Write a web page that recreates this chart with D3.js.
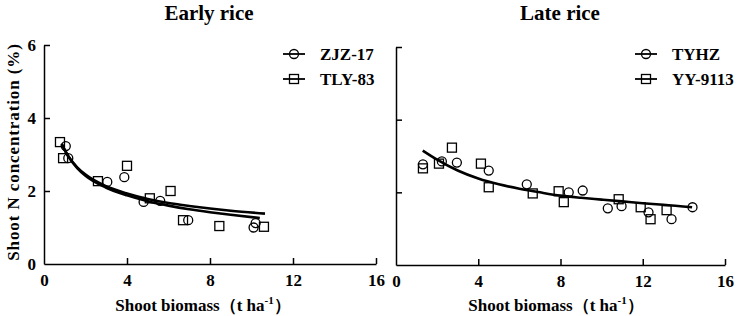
<!DOCTYPE html>
<html><head><meta charset="utf-8">
<script src="https://cdn.jsdelivr.net/npm/d3@7"></script>
<style>body{margin:0;background:#fff}svg{display:block}text{font-family:"Liberation Serif","Times New Roman",serif;font-weight:bold;fill:#000}</style>
</head><body><svg id="c" width="737" height="316"></svg>
<script>
const panelTitles = ["Early rice", "Late rice"];
const seriesNames = [["ZJZ-17", "TLY-83"], ["TYHZ", "YY-9113"]];
const xTicks = [0, 4, 8, 12, 16];
const yTicks = [0, 2, 4, 6];

// Early rice observations
const earlyCircleX = [1.05, 1.17, 3.05, 3.87, 4.8, 5.6, 6.95, 10.1, 10.2];
const earlyCircleY = [3.23, 2.9, 2.25, 2.38, 1.7, 1.73, 1.2, 1.0, 1.12];
const earlySquareX = [0.77, 0.92, 2.6, 4.0, 5.1, 6.1, 6.7, 8.45, 10.6];
const earlySquareY = [3.34, 2.9, 2.27, 2.69, 1.8, 2.0, 1.2, 1.04, 1.02];
// Early rice fitted curves
const earlyFitAX = [0.85, 1.2, 1.6, 2, 3, 4, 5, 6, 7, 8, 9, 10.65];
const earlyFitAY = [3.30, 2.93, 2.65, 2.45, 2.13, 1.93, 1.78, 1.67, 1.59, 1.52, 1.46, 1.38];
const earlyFitBX = [0.85, 1.2, 1.6, 2, 3, 4, 5, 6, 7, 8, 9, 10.4];
const earlyFitBY = [3.28, 2.92, 2.63, 2.42, 2.09, 1.88, 1.72, 1.60, 1.50, 1.42, 1.35, 1.26];

// Late rice observations
const lateCircleX = [1.31, 2.23, 2.96, 4.51, 6.36, 8.4, 9.08, 10.3, 10.97, 12.28, 13.4, 14.42];
const lateCircleY = [2.77, 2.85, 2.82, 2.6, 2.22, 2.0, 2.05, 1.56, 1.62, 1.45, 1.26, 1.59];
const lateSquareX = [1.31, 2.09, 2.72, 4.13, 4.51, 6.65, 7.91, 8.16, 10.83, 11.9, 12.38, 13.16];
const lateSquareY = [2.66, 2.79, 3.23, 2.79, 2.14, 1.97, 2.03, 1.73, 1.81, 1.59, 1.26, 1.51];
// Late rice fitted curve
const lateFitX = [1.3, 2, 3, 4, 5, 6, 7, 8, 9, 10, 11, 12, 13, 14.4];
const lateFitY = [3.15, 2.9, 2.6, 2.38, 2.22, 2.1, 2.0, 1.91, 1.85, 1.8, 1.75, 1.7, 1.66, 1.59];

const svg = d3.select("#c");
const zip = (xs, ys) => xs.map((x, i) => [x, ys[i]]);

const panels = [
  {x0: 44, x1: 376, y0: 264, y1: 45, title: panelTitles[0], titleX: 209, names: seriesNames[0],
   legX: 283, yLabels: true,
   circles: zip(earlyCircleX, earlyCircleY), squares: zip(earlySquareX, earlySquareY),
   fits: [zip(earlyFitAX, earlyFitAY), zip(earlyFitBX, earlyFitBY)], xlabX: 203},
  {x0: 396, x1: 725, y0: 265, y1: 47, title: panelTitles[1], titleX: 560, names: seriesNames[1],
   legX: 635, yLabels: false,
   circles: zip(lateCircleX, lateCircleY), squares: zip(lateSquareX, lateSquareY),
   fits: [zip(lateFitX, lateFitY)], xlabX: 556}
];

const R = 4.5, S = 9;
function circle(g, cx, cy) {
  g.append("circle").attr("cx", cx).attr("cy", cy).attr("r", R)
    .attr("fill", "none").attr("stroke", "#000").attr("stroke-width", 1.3);
}
function square(g, cx, cy) {
  g.append("rect").attr("x", cx - S / 2).attr("y", cy - S / 2).attr("width", S).attr("height", S)
    .attr("fill", "none").attr("stroke", "#000").attr("stroke-width", 1.3);
}

panels.forEach(p => {
  const x = d3.scaleLinear().domain([0, 16]).range([p.x0, p.x1]);
  const y = d3.scaleLinear().domain([0, 6]).range([p.y0, p.y1]);
  const g = svg.append("g");

  const xa = g.append("g").attr("transform", `translate(0,${p.y0})`)
    .call(d3.axisBottom(x).tickValues(xTicks).tickFormat(d3.format("d")).tickSizeInner(-6).tickSizeOuter(0).tickPadding(10));
  const ya = g.append("g").attr("transform", `translate(${p.x0},0)`)
    .call(d3.axisLeft(y).tickValues(yTicks).tickFormat(d3.format("d")).tickSizeInner(-6).tickSizeOuter(0).tickPadding(8));
  [xa, ya].forEach(a => {
    a.select(".domain").attr("stroke", "#000").attr("stroke-width", 1.5);
    a.selectAll(".tick line").attr("stroke", "#000").attr("stroke-width", 1.5);
    a.selectAll("text").style("font-size", "17px").style("font-family", '"Liberation Serif",serif').style("font-weight", "bold");
  });
  ya.selectAll(".tick").filter(d => d === 0).select("line").remove();
  xa.selectAll(".tick").filter(d => d === 0).select("line").remove();
  if (!p.yLabels) ya.selectAll("text").remove();

  // fits
  const line = d3.line().x(d => x(d[0])).y(d => y(d[1])).curve(d3.curveMonotoneX);
  p.fits.forEach(f => g.append("path").attr("d", line(f)).attr("fill", "none")
    .attr("stroke", "#000").attr("stroke-width", 2.6));

  p.circles.forEach(d => circle(g, x(d[0]), y(d[1])));
  p.squares.forEach(d => square(g, x(d[0]), y(d[1])));

  // title
  g.append("text").attr("x", p.titleX).attr("y", 20).attr("text-anchor", "middle")
    .style("font-size", "21px").text(p.title);

  // legend
  [0, 1].forEach(i => {
    const ly = 54 + i * 25;
    g.append("line").attr("x1", p.legX).attr("x2", p.legX + 22).attr("y1", ly).attr("y2", ly)
      .attr("stroke", "#000").attr("stroke-width", 1.8);
    if (i === 0) circle(g, p.legX + 11, ly); else square(g, p.legX + 11, ly);
    g.append("text").attr("x", p.legX + 37).attr("y", ly + 6).style("font-size", "17px").text(p.names[i]);
  });

  // x label
  const xl = g.append("text").attr("x", p.xlabX).attr("y", 311).attr("text-anchor", "middle")
    .style("font-size", "17px");
  xl.append("tspan").text("Shoot biomass（t ha");
  xl.append("tspan").attr("dy", -7).style("font-size", "11px").text("-1");
  xl.append("tspan").attr("dy", 7).text("）");
});

svg.append("text").attr("transform", "translate(19,152) rotate(-90)").attr("text-anchor", "middle")
  .style("font-size", "17px").style("letter-spacing", "0.9px").text("Shoot N  concentration (%)");
</script></body></html>
